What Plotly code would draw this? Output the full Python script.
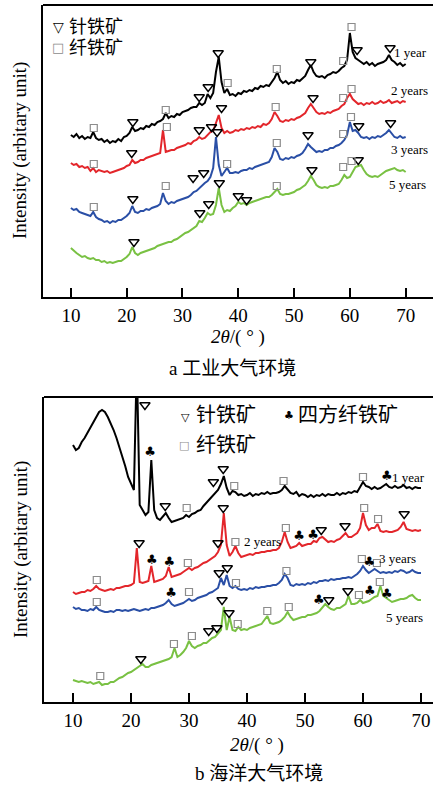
import plotly.graph_objects as go

# ---------------- data ----------------
two_theta = [10 + 0.5 * i for i in range(121)]  # 10..70 deg, 0.5 step

# panel a (industrial atmosphere) intensities, arbitrary units
a_1year = [162,160,163,159,161,158,160,159,165,159,
           157,158,155,157,154,156,155,158,156,160,
           161,164,170,166,167,169,168,171,170,173,
           172,175,176,178,184,179,181,180,183,182,
           185,186,187,189,190,190,194,192,194,203,
           199,204,225,240,215,204,208,202,203,201,
           204,203,206,205,207,206,209,208,211,210,
           212,211,215,219,225,217,214,216,213,215,
           214,217,216,219,221,227,232,225,221,220,
           221,219,222,223,225,224,226,229,231,237,
           264,245,239,237,235,233,235,232,234,231,
           233,234,235,237,242,237,235,232,234,231,233]
a_2years = [134,132,133,130,131,129,130,126,129,125,
            127,126,125,126,124,125,126,127,128,129,
            131,132,137,134,135,137,137,139,140,141,
            142,143,144,167,145,146,147,147,149,150,
            151,152,154,153,156,157,160,158,159,162,
            165,166,173,182,169,164,166,164,165,167,
            166,168,167,169,168,170,169,171,170,173,
            172,174,178,185,181,176,175,177,176,178,
            177,179,180,182,184,189,193,189,185,183,
            184,183,185,184,186,187,188,191,193,199,
            203,198,195,193,194,192,194,193,195,193,
            194,196,194,195,197,194,195,196,194,196,195]
a_3years = [89,87,88,85,84,83,82,81,85,80,
            78,77,75,76,74,76,75,77,77,79,
            81,84,91,85,84,86,86,88,87,89,
            90,91,93,104,96,93,95,94,96,97,
            98,99,100,102,105,106,109,111,114,116,
            120,129,160,132,121,125,129,124,124,125,
            124,126,127,127,129,128,130,131,132,133,
            134,135,140,149,145,138,137,139,138,140,
            139,141,142,144,148,153,150,147,145,146,
            145,147,147,149,149,151,152,154,157,162,
            175,166,167,164,160,159,160,158,160,159,
            161,160,162,164,167,163,160,159,161,159,160]
a_5years = [49,46,44,42,40,41,39,38,39,37,
            37,35,36,34,35,34,35,36,36,38,
            40,43,50,44,42,44,45,46,47,48,
            49,51,52,53,54,55,55,57,58,60,
            62,64,65,67,69,71,76,75,79,84,
            82,83,92,109,92,85,87,86,89,91,
            95,93,94,92,94,95,96,97,98,99,
            100,100,102,105,108,103,102,103,103,104,
            105,107,108,110,112,116,121,117,112,110,
            109,110,109,111,111,112,113,117,122,119,
            120,125,130,131,132,127,123,121,120,121,
            120,122,124,126,127,128,129,127,126,127,125]

# panel b (marine atmosphere)
b_1year = [257,252,254,260,264,269,274,280,285,290,
           292,290,285,279,272,264,255,246,236,225,
           218,212,340,197,192,187,190,242,192,184,
           182,186,189,184,180,181,182,183,184,187,
           185,188,189,191,192,196,199,202,205,208,
           212,218,226,214,207,211,210,207,208,206,
           207,209,206,208,207,209,208,210,208,209,
           209,210,212,216,213,209,208,210,206,208,
           207,205,207,205,207,206,208,206,208,207,
           207,209,207,209,208,210,209,211,210,215,
           220,216,215,213,215,213,214,216,218,215,
           214,216,214,215,217,214,215,213,215,214,214]
b_2years = [110,108,109,110,110,112,111,113,116,113,
            112,111,112,113,112,114,114,115,116,116,
            117,119,154,120,119,120,121,136,120,121,
            122,123,126,135,125,126,127,128,130,132,
            134,132,134,135,137,139,140,142,144,146,
            150,157,189,157,146,150,156,149,145,146,
            147,148,147,149,149,150,150,151,151,152,
            152,154,160,170,160,154,155,156,159,156,
            157,158,158,161,160,164,165,162,160,161,
            160,162,163,166,169,165,165,167,169,174,
            189,177,172,174,174,178,171,170,171,170,
            170,171,172,175,180,173,172,171,172,171,172]
b_3years = [95,93,94,92,92,91,93,92,95,92,
            91,90,90,91,90,92,92,91,92,91,
            92,93,92,91,92,93,92,94,94,95,
            96,97,99,102,98,96,97,98,99,101,
            103,101,102,104,105,106,107,109,110,112,
            114,124,117,127,116,114,116,113,112,113,
            112,114,113,115,114,115,115,116,116,117,
            117,119,122,128,124,117,116,118,117,118,
            117,119,118,120,119,121,121,122,121,123,
            122,123,123,124,124,125,124,126,128,131,
            136,132,129,131,133,131,129,130,129,130,
            129,131,130,132,131,129,130,132,130,129,129]
b_5years = [22,21,20,21,20,19,20,18,19,20,
            17,18,18,20,20,22,24,25,27,29,
            30,32,34,36,38,35,35,37,38,39,
            40,41,42,43,45,54,45,47,50,54,
            61,56,54,56,57,59,59,62,64,65,
            69,72,95,72,85,72,71,75,72,73,
            72,74,75,76,77,78,82,86,79,78,
            79,80,82,85,90,85,82,83,84,85,
            85,87,87,88,89,91,94,98,95,93,
            92,94,94,96,98,106,98,98,99,102,
            99,100,101,103,105,106,116,106,104,102,
            100,101,102,103,103,104,106,107,104,102,102]

for s in (a_1year, a_2years, a_3years, a_5years, b_1year, b_2years, b_3years, b_5years):
    assert len(s) == len(two_theta), len(s)

# phase markers (2theta, intensity)
goe_a_x = [21.1,33.0,34.6,36.4,53.0,61.3,67.2, 20.9,33.0,35.2,37.0,53.4,
           21.1,31.9,33.8,36.2,52.5,61.6,67.3, 21.3,33.1,34.7,36.6,40.0,41.5,53.2,61.5]
goe_a_y = [175,200,210,244,235,247,249, 144,167,170,189,199,
           98,119,124,165,162,171,174, 55,84,93,114,101,97,127,137]
lep_a_x = [14.1,27.0,38.1,46.9,58.8,60.3, 14.1,27.2,46.7,58.8,60.3,
           14.1,27.0,38.0,46.9,58.8,60.2, 46.9,58.8,60.3]
lep_a_y = [169,187,214,228,236,270, 133,170,190,199,208,
           90,111,133,154,163,180, 111,130,136]

goe_b_x = [22.4,25.9,34.2,35.9, 21.4,35.0,35.9,52.8,56.9,67.1, 35.2,36.6,
           21.7,33.4,34.8,35.7,36.9,54.1,57.4]
goe_b_y = [297,196,220,233, 159,159,194,172,176,188, 129,134,
           43,71,74,102,89,102,111]
lep_b_x = [29.6,37.8,46.3,60.0, 14.1,29.8,38.0,46.7,60.2,62.6,
           14.1,30.0,38.1,46.8,59.8,62.4, 14.7,27.4,30.5,38.4,43.5,47.2,59.3,62.9]
lep_b_y = [194,216,221,225, 122,139,160,174,194,183,
           100,110,119,131,143,139, 26,58,66,78,91,95,107,120]
aka_b_x = [23.3,64.1, 23.6,26.6,49.0,51.4, 26.9,61.1, 52.4,61.2,64.1]
aka_b_y = [249,225, 141,139,165,166, 108,139, 101,110,107]

series_labels = ["1 year", "2 years", "3 years", "5 years"]
tick_vals = [10, 20, 30, 40, 50, 60, 70]

# ---------------- figure ----------------
W, H = 433, 787
BLACK, RED, BLUE, GREEN = "#000000", "#e3262b", "#2a4fa6", "#79c143"
SERIF = "Liberation Serif, Times New Roman, serif"
CJK = "Liberation Serif, Noto Sans CJK SC, serif"

fig = go.Figure()
for ys, col in zip([a_1year, a_2years, a_3years, a_5years], [BLACK, RED, BLUE, GREEN]):
    fig.add_trace(go.Scatter(x=two_theta, y=ys, mode="lines",
                             line=dict(color=col, width=2.0), xaxis="x", yaxis="y"))
for ys, col in zip([b_1year, b_2years, b_3years, b_5years], [BLACK, RED, BLUE, GREEN]):
    fig.add_trace(go.Scatter(x=two_theta, y=ys, mode="lines",
                             line=dict(color=col, width=2.0), xaxis="x2", yaxis="y2"))

tri = dict(symbol="triangle-down-open", size=9, color="black", line=dict(width=1.4, color="black"))
sq = dict(symbol="square-open", size=7, color="#8c8c8c", line=dict(width=1.2, color="#8c8c8c"))
fig.add_trace(go.Scatter(x=goe_a_x, y=goe_a_y, mode="markers", marker=tri, xaxis="x", yaxis="y"))
fig.add_trace(go.Scatter(x=lep_a_x, y=lep_a_y, mode="markers", marker=sq, xaxis="x", yaxis="y"))
fig.add_trace(go.Scatter(x=goe_b_x, y=goe_b_y, mode="markers", marker=tri, xaxis="x2", yaxis="y2"))
fig.add_trace(go.Scatter(x=lep_b_x, y=lep_b_y, mode="markers", marker=sq, xaxis="x2", yaxis="y2"))
fig.add_trace(go.Scatter(x=aka_b_x, y=aka_b_y, mode="text", text=["♣"] * len(aka_b_x),
                         textposition="middle center",
                         textfont=dict(size=13, color="black", family="DejaVu Sans"),
                         xaxis="x2", yaxis="y2"))


def px(x):
    return x / W


def py(y):
    return 1 - y / H


xcommon = dict(tickvals=tick_vals, ticks="inside", ticklen=9, tickwidth=1.5, tickcolor="black",
               showline=True, linewidth=2, linecolor="black", showgrid=False, zeroline=False,
               tickfont=dict(family=SERIF, size=19, color="black"))
ycommon = dict(showline=True, linewidth=2, linecolor="black", showgrid=False, zeroline=False,
               showticklabels=False, ticks="")

fig.update_layout(
    width=W, height=H, margin=dict(l=0, r=0, t=0, b=0),
    paper_bgcolor="white", plot_bgcolor="white", showlegend=False,
    xaxis=dict(domain=[px(43), 1], range=[5, 74.9], anchor="y", **xcommon),
    yaxis=dict(domain=[py(297), py(5)], range=[0, 292], anchor="x", **ycommon),
    xaxis2=dict(domain=[px(44), 1], range=[5, 72.07], anchor="y2", **xcommon),
    yaxis2=dict(domain=[py(702), py(397)], range=[0, 305], anchor="x2", **ycommon),
)

# top frame lines (right side runs off the image)
for xr, yr in [("x domain", "y domain"), ("x2 domain", "y2 domain")]:
    fig.add_shape(type="line", xref=xr, yref=yr, x0=0, x1=1, y0=1, y1=1,
                  line=dict(color="black", width=2))

ann = []


def add_text(text, x, y, size, family=SERIF, xanchor="center", color="black", angle=0):
    ann.append(dict(text=text, x=px(x), y=py(y), xref="paper", yref="paper", showarrow=False,
                    xanchor=xanchor, yanchor="middle", textangle=angle,
                    font=dict(size=size, family=family, color=color)))


# y titles
add_text("Intensity (arbitary unit)", 20, 151, 19, angle=-90)
add_text("Intensity (arbitary unit)", 21, 550, 19, angle=-90)
# x titles
add_text("<i>2θ</i>/( ° )", 238, 337, 19)
add_text("<i>2θ</i>/( ° )", 257, 745, 19)
# captions
add_text("a 工业大气环境", 233, 368, 19, family=CJK)
add_text("b 海洋大气环境", 259, 773, 19, family=CJK)

# legends panel a
add_text("▽", 58, 27, 14, family="DejaVu Sans")
add_text("针铁矿", 67, 27, 18, family=CJK, xanchor="left")
add_text("□", 58, 48, 13, family="DejaVu Sans", color="#8c8c8c")
add_text("纤铁矿", 67, 48, 18, family=CJK, xanchor="left")
# legends panel b
add_text("▽", 185, 417, 11, family="DejaVu Sans")
add_text("针铁矿", 194, 415, 20, family=CJK, xanchor="left")
add_text("♣", 289, 415, 11, family="DejaVu Sans")
add_text("四方纤铁矿", 296, 415, 20, family=CJK, xanchor="left")
add_text("□", 184, 445, 11, family="DejaVu Sans", color="#8c8c8c")
add_text("纤铁矿", 194, 445, 20, family=CJK, xanchor="left")

# series labels
for lab, (x, y) in zip(series_labels, [(429, 52), (430, 90), (430, 149), (428, 184)]):
    add_text(lab, x, y, 13, xanchor="right")
for lab, (x, y, xa) in zip(series_labels, [(427, 477, "right"), (242, 541, "left"),
                                           (418, 558, "right"), (425, 617, "right")]):
    add_text(lab, x, y, 13, xanchor=xa)

fig.update_layout(annotations=ann)
fig.write_html("out.html", config={"displayModeBar": False},
               post_script="document.body.style.margin='0';")
